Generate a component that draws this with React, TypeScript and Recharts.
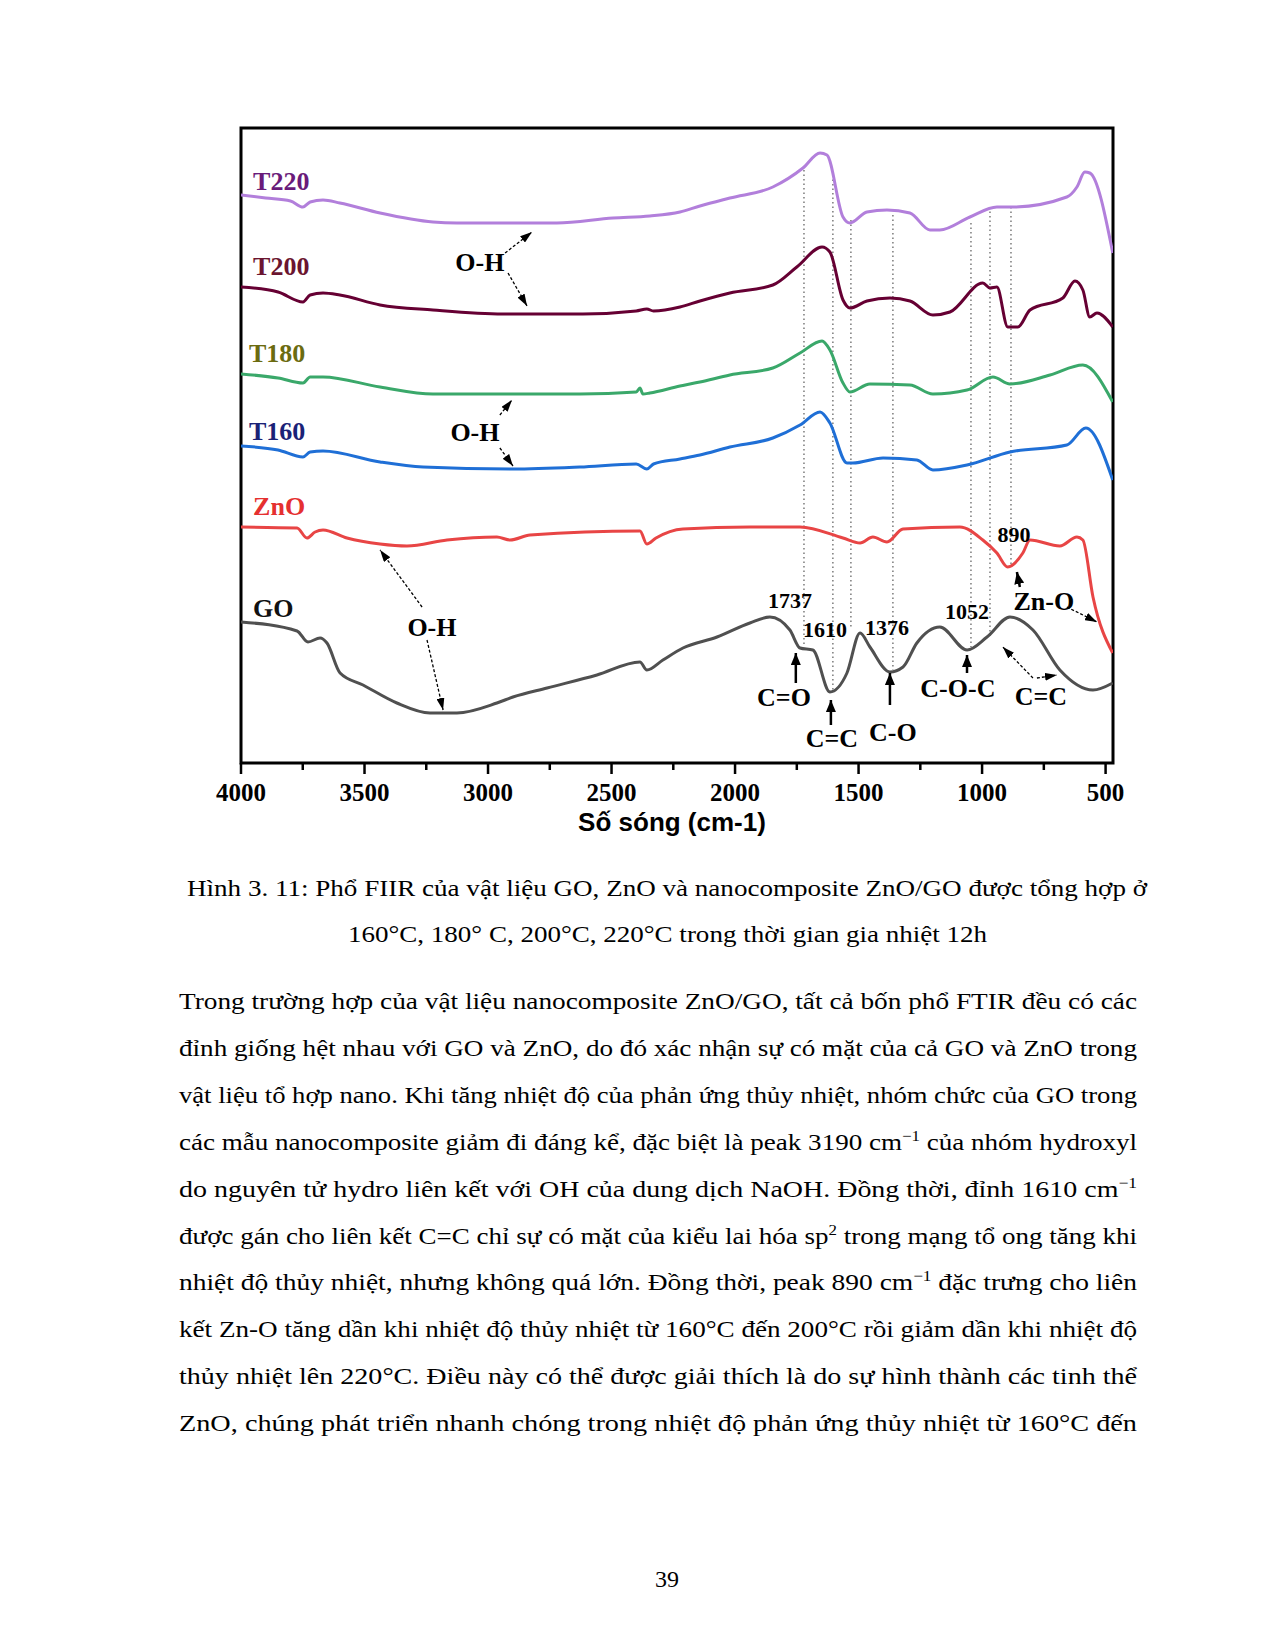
import {
  LineChart,
  Line,
  XAxis,
  YAxis,
  ReferenceArea,
  ReferenceLine,
  ReferenceDot
} from "recharts";

// wavenumber axis (cm-1), drawn high -> low
const MAJOR_TICKS = [4000, 3500, 3000, 2500, 2000, 1500, 1000, 500];
const MINOR_TICKS = [3750, 3250, 2750, 2250, 1750, 1250, 750];
const WN_DOMAIN = [470, 4000];
const INTENSITY_DOMAIN = [0, 635];

// spectra (arbitrary offset units)
const T220_WN = [4000, 3900, 3800, 3749, 3720, 3668, 3600, 3437, 3223, 3126, 2900, 2721, 2494, 2345, 2223, 2142, 2021, 1847, 1725, 1656, 1628, 1563, 1535, 1466, 1385, 1292, 1211, 1171, 1049, 940, 875, 657, 616, 584, 564, 471];
const T220_I = [568, 565, 562, 556, 561, 563, 560, 550, 541, 540, 540, 540, 545, 547, 551, 557, 565, 576, 595, 610, 608, 546, 540, 551, 553, 550, 533, 533, 546, 556, 556, 566, 576, 591, 590, 510];

const T200_WN = [4000, 3850, 3749, 3720, 3668, 3600, 3437, 3223, 2940, 2616, 2400, 2357, 2330, 2223, 2142, 2021, 1847, 1750, 1648, 1616, 1563, 1535, 1466, 1373, 1292, 1199, 1130, 997, 968, 940, 896, 855, 806, 673, 624, 592, 564, 535, 471];
const T200_I = [476, 471, 461, 468, 470, 468, 458, 453, 449, 449, 452, 454, 452, 456, 462, 470, 478, 496, 516, 511, 463, 455, 462, 465, 462, 448, 451, 480, 475, 476, 436, 436, 453, 465, 482, 473, 446, 450, 436];

const T180_WN = [4000, 3850, 3749, 3720, 3668, 3437, 3223, 2628, 2400, 2385, 2373, 2345, 2223, 2142, 2021, 1847, 1737, 1648, 1616, 1563, 1535, 1454, 1292, 1199, 1061, 956, 887, 725, 592, 471];
const T180_I = [389, 385, 380, 386, 386, 376, 369, 369, 371, 375, 369, 370, 377, 381, 388, 395, 410, 422, 413, 380, 371, 379, 378, 369, 373, 386, 379, 388, 398, 361];

const T160_WN = [4000, 3850, 3749, 3720, 3668, 3437, 3263, 2899, 2628, 2400, 2357, 2330, 2223, 2142, 2021, 1847, 1737, 1656, 1616, 1547, 1523, 1401, 1264, 1199, 1061, 887, 657, 580, 471];
const T160_I = [317, 313, 306, 311, 312, 301, 296, 294, 296, 299, 294, 299, 304, 308, 316, 325, 338, 351, 340, 300, 300, 305, 303, 293, 298, 311, 318, 335, 283];

const ZNO_WN = [4000, 3773, 3733, 3700, 3668, 3571, 3437, 3328, 3166, 2964, 2911, 2830, 2385, 2357, 2320, 2211, 1940, 1737, 1563, 1494, 1442, 1385, 1320, 1090, 997, 940, 896, 835, 806, 685, 616, 592, 551, 471];
const ZNO_I = [236, 235, 225, 231, 233, 225, 219, 217, 223, 226, 223, 228, 232, 219, 225, 234, 236, 236, 225, 220, 226, 221, 234, 236, 223, 210, 196, 210, 223, 217, 226, 223, 166, 110];

const GO_WN = [4000, 3773, 3729, 3680, 3652, 3599, 3506, 3369, 3235, 3126, 2964, 2899, 2761, 2559, 2385, 2357, 2292, 2211, 2073, 1940, 1859, 1778, 1737, 1685, 1616, 1547, 1494, 1454, 1373, 1320, 1264, 1171, 1061, 980, 887, 794, 685, 551, 471];
const GO_I = [141, 132, 121, 125, 120, 90, 78, 60, 50, 50, 60, 66, 75, 88, 101, 93, 103, 115, 126, 140, 146, 133, 115, 113, 71, 90, 130, 116, 91, 96, 120, 136, 113, 126, 146, 133, 93, 73, 80];

const SERIES_NAMES = ["T220", "T200", "T180", "T160", "ZnO", "GO"];
const SERIES_WN = [T220_WN, T200_WN, T180_WN, T160_WN, ZNO_WN, GO_WN];
const SERIES_I = [T220_I, T200_I, T180_I, T160_I, ZNO_I, GO_I];
const NAME_WN = [3951, 3951, 3968, 3968, 3951, 3951];
const NAME_I = [582, 497, 410, 332, 257, 155];

// dotted guide lines through the band positions
const GUIDE_WN = [1721, 1604, 1531, 1361, 1045, 968, 883];
const GUIDE_TOP = [593, 588, 543, 548, 540, 556, 556];
const GUIDE_BOTTOM = [116, 73, 136, 93, 116, 126, 196];

// peak / band annotations
const NOTE_TEXT = ["O-H", "O-H", "O-H", "1737", "1610", "1376", "1052", "890", "Zn-O", "C=O", "C=C", "C-O", "C-O-C", "C=C"];
const NOTE_WN = [3033, 3053, 3227, 1778, 1636, 1385, 1061, 871, 750, 1802, 1608, 1361, 1098, 762];
const NOTE_I = [501, 331, 136, 163, 134, 136, 152, 229, 162, 66, 25, 31, 75, 67];

// arrows [from wn, from I, to wn, to I]
const THIN_ARROWS = [
  [2931, 510, 2822, 531],
  [2919, 490, 2842, 457],
  [2952, 348, 2903, 363],
  [2952, 315, 2899, 297],
  [3267, 156, 3437, 213],
  [3247, 123, 3182, 53],
  [657, 156, 535, 141],
  [794, 85, 916, 116],
  [778, 85, 697, 88]
];
const SOLID_ARROWS = [
  [1754, 80, 1754, 110],
  [1612, 38, 1612, 63],
  [1373, 58, 1373, 90],
  [1061, 90, 1061, 108],
  [847, 176, 859, 191]
];

const CAPTION_LINES = [
  "Hình 3. 11: Phổ FIIR của vật liệu GO, ZnO và nanocomposite ZnO/GO được tổng hợp ở",
  "160°C, 180° C, 200°C, 220°C trong thời gian gia nhiệt 12h"
];

const BODY_LINES = [
  "Trong trường hợp của vật liệu nanocomposite ZnO/GO, tất cả bốn phổ FTIR đều có các",
  "đỉnh giống hệt nhau với GO và ZnO, do đó xác nhận sự có mặt của cả GO và ZnO trong",
  "vật liệu tổ hợp nano. Khi tăng nhiệt độ của phản ứng thủy nhiệt, nhóm chức của GO trong",
  "các mẫu nanocomposite giảm đi đáng kể, đặc biệt là peak 3190 cm^{−1} của nhóm hydroxyl",
  "do nguyên tử hydro liên kết với OH của dung dịch NaOH. Đồng thời, đỉnh 1610 cm^{−1}",
  "được gán cho liên kết C=C chỉ sự có mặt của kiểu lai hóa sp^{2} trong mạng tổ ong tăng khi",
  "nhiệt độ thủy nhiệt, nhưng không quá lớn. Đồng thời, peak 890 cm^{−1} đặc trưng cho liên",
  "kết Zn-O tăng dần khi nhiệt độ thủy nhiệt từ 160°C đến 200°C rồi giảm dần khi nhiệt độ",
  "thủy nhiệt lên 220°C. Điều này có thể được giải thích là do sự hình thành các tinh thể",
  "ZnO, chúng phát triển nhanh chóng trong nhiệt độ phản ứng thủy nhiệt từ 160°C đến"
];

const PAGE_NUMBER = "39";

const LINE_COLORS = ["#b27fdb", "#660033", "#3aa86a", "#1f6fd6", "#e84545", "#505050"];
const NAME_COLORS = ["#6a1b7a", "#6b1530", "#6b6b10", "#1b2277", "#e53030", "#111111"];

const SERIF = "'Liberation Serif', 'Times New Roman', serif";
const SANS = "'Liberation Sans', Arial, sans-serif";

const seriesData = SERIES_WN.map((wns, s) =>
  wns.map((wn, i) => ({ wn, value: SERIES_I[s][i] }))
);

function WavenumberTick(props: any) {
  const { x, y, payload } = props;
  const major = MAJOR_TICKS.includes(payload.value);
  return (
    <g>
      <line x1={x} x2={x} y1={y} y2={y + (major ? 11 : 7)} stroke="#000" strokeWidth={2.5} />
      {major && (
        <text
          x={x}
          y={y + 38}
          textAnchor="middle"
          fontFamily={SERIF}
          fontWeight="bold"
          fontSize={25}
          fill="#000"
        >
          {payload.value}
        </text>
      )}
    </g>
  );
}

function renderBodyLine(line: string) {
  const parts = line.split(/\^\{([^}]*)\}/);
  return parts.map((part, i) =>
    i % 2 === 1 ? (
      <tspan key={i} dy={-9} fontSize={15}>
        {part}
      </tspan>
    ) : (
      <tspan key={i} dy={i > 0 ? 9 : 0}>
        {part}
      </tspan>
    )
  );
}

export default function App() {
  return (
    <div style={{ position: "absolute", left: 0, top: 0, width: 1275, height: 1650, background: "#fff" }}>
      <div style={{ position: "absolute", left: 0, top: 0 }}>
        <LineChart width={1275} height={860} margin={{ top: 128, right: 162, bottom: 60, left: 241 }}>
          <defs>
            <marker
              id="thinHead"
              viewBox="0 0 12 8"
              refX={12}
              refY={4}
              markerWidth={12}
              markerHeight={8}
              markerUnits="userSpaceOnUse"
              orient="auto"
            >
              <path d="M0,0 L12,4 L0,8 z" fill="#000" />
            </marker>
            <marker
              id="solidHead"
              viewBox="0 0 12 10"
              refX={12}
              refY={5}
              markerWidth={12}
              markerHeight={10}
              markerUnits="userSpaceOnUse"
              orient="auto"
            >
              <path d="M0,0 L12,5 L0,10 z" fill="#000" />
            </marker>
          </defs>
          <XAxis
            dataKey="wn"
            type="number"
            domain={WN_DOMAIN}
            reversed
            allowDataOverflow
            ticks={[...MAJOR_TICKS, ...MINOR_TICKS]}
            interval={0}
            tick={<WavenumberTick />}
            tickLine={false}
            axisLine={false}
            tickSize={0}
            tickMargin={0}
            height={37}
            label={{
              content: (p: any) => {
                const vb = p.viewBox;
                return (
                  <text
                    x={vb.x + vb.width / 2 - 5}
                    y={vb.y + 68}
                    textAnchor="middle"
                    fontFamily={SANS}
                    fontWeight="bold"
                    fontSize={26}
                    fill="#000"
                  >
                    Số sóng (cm-1)
                  </text>
                );
              }
            }}
          />
          <YAxis
            type="number"
            domain={INTENSITY_DOMAIN}
            allowDataOverflow
            width={0}
            tick={false}
            tickLine={false}
            axisLine={false}
            label={{
              content: (p: any) => {
                const vb = p.viewBox;
                const cx = vb.x + vb.width - 40;
                const cy = vb.y + vb.height / 2 + 2;
                return (
                  <text
                    transform={`translate(${cx}, ${cy}) rotate(-90)`}
                    textAnchor="middle"
                    dominantBaseline="central"
                    fontFamily={SANS}
                    fontWeight="bold"
                    fontSize={26}
                    textLength={212}
                    lengthAdjust="spacingAndGlyphs"
                    fill="#000"
                  >
                    Cường độ (a.u)
                  </text>
                );
              }
            }}
          />
          <ReferenceArea
            x1={WN_DOMAIN[0]}
            x2={WN_DOMAIN[1]}
            y1={INTENSITY_DOMAIN[0]}
            y2={INTENSITY_DOMAIN[1]}
            fill="none"
            fillOpacity={0}
            stroke="#000"
            strokeWidth={3}
          />
          {GUIDE_WN.map((wn, i) => (
            <ReferenceLine
              key={`g${i}`}
              segment={[
                { x: wn, y: GUIDE_TOP[i] },
                { x: wn, y: GUIDE_BOTTOM[i] }
              ]}
              stroke="#7a7a7a"
              strokeWidth={1.5}
              strokeDasharray="1.5 3"
            />
          ))}
          {SERIES_NAMES.map((name, s) => (
            <Line
              key={name}
              data={seriesData[s]}
              dataKey="value"
              name={name}
              type="monotone"
              stroke={LINE_COLORS[s]}
              strokeWidth={3}
              dot={false}
              activeDot={false}
              isAnimationActive={false}
            />
          ))}
          {THIN_ARROWS.map((a, i) => (
            <ReferenceLine
              key={`ta${i}`}
              segment={[
                { x: a[0], y: a[1] },
                { x: a[2], y: a[3] }
              ]}
              shape={(p: any) => (
                <line
                  x1={p.x1}
                  y1={p.y1}
                  x2={p.x2}
                  y2={p.y2}
                  stroke="#000"
                  strokeWidth={1.3}
                  strokeDasharray="3 2"
                  markerEnd="url(#thinHead)"
                />
              )}
            />
          ))}
          {SOLID_ARROWS.map((a, i) => (
            <ReferenceLine
              key={`sa${i}`}
              segment={[
                { x: a[0], y: a[1] },
                { x: a[2], y: a[3] }
              ]}
              shape={(p: any) => (
                <line
                  x1={p.x1}
                  y1={p.y1}
                  x2={p.x2}
                  y2={p.y2}
                  stroke="#000"
                  strokeWidth={2.5}
                  markerEnd="url(#solidHead)"
                />
              )}
            />
          ))}
          {SERIES_NAMES.map((name, s) => (
            <ReferenceDot
              key={`n${name}`}
              x={NAME_WN[s]}
              y={NAME_I[s]}
              r={0}
              shape={(p: any) => (
                <text
                  x={p.cx}
                  y={p.cy}
                  dominantBaseline="central"
                  fontFamily={SERIF}
                  fontWeight="bold"
                  fontSize={26}
                  fill={NAME_COLORS[s]}
                >
                  {name}
                </text>
              )}
            />
          ))}
          {NOTE_TEXT.map((t, i) => (
            <ReferenceDot
              key={`t${i}`}
              x={NOTE_WN[i]}
              y={NOTE_I[i]}
              r={0}
              shape={(p: any) => (
                <text
                  x={p.cx}
                  y={p.cy}
                  textAnchor="middle"
                  dominantBaseline="central"
                  fontFamily={SERIF}
                  fontWeight="bold"
                  fontSize={/^\d+$/.test(t) ? 22 : 26}
                  fill="#000"
                >
                  {t}
                </text>
              )}
            />
          ))}
        </LineChart>
      </div>
      <svg
        width={1275}
        height={1650}
        style={{ position: "absolute", left: 0, top: 0, pointerEvents: "none" }}
      >
        <g fontFamily={SERIF} fill="#000">
          <text x={187} y={896} fontSize={24} textLength={960} lengthAdjust="spacingAndGlyphs">
            {CAPTION_LINES[0]}
          </text>
          <text x={348} y={942} fontSize={24} textLength={639} lengthAdjust="spacingAndGlyphs">
            {CAPTION_LINES[1]}
          </text>
          {BODY_LINES.map((line, i) => (
            <text
              key={i}
              x={179}
              y={1009 + i * 46.9}
              fontSize={24}
              textLength={958}
              lengthAdjust="spacingAndGlyphs"
            >
              {renderBodyLine(line)}
            </text>
          ))}
          <text x={667} y={1587} fontSize={24} textAnchor="middle">
            {PAGE_NUMBER}
          </text>
        </g>
      </svg>
    </div>
  );
}
